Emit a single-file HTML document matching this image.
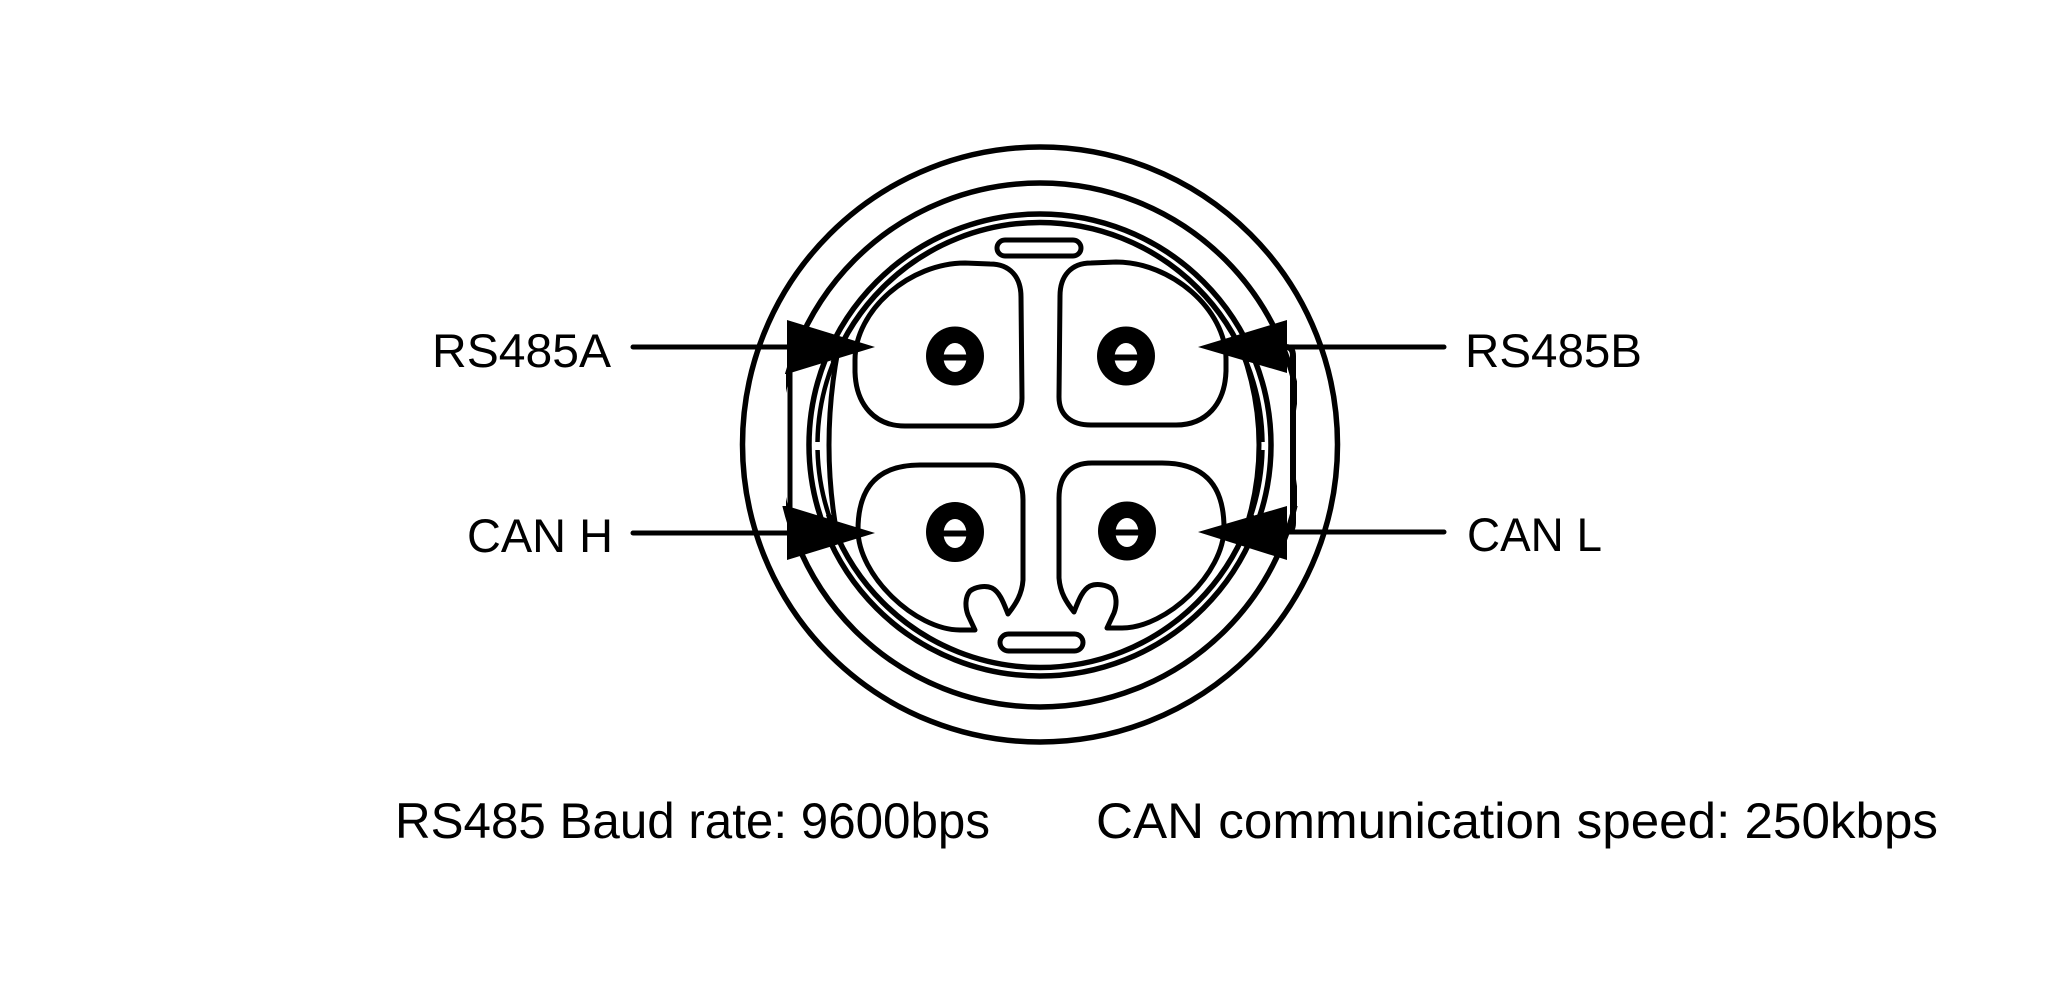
<!DOCTYPE html>
<html>
<head>
<meta charset="utf-8">
<style>
  html,body{margin:0;padding:0;background:#fff;}
  svg{display:block;}
  text{font-family:"Liberation Sans","DejaVu Sans",sans-serif;fill:#000;}
</style>
</head>
<body>
<svg width="2048" height="1000" viewBox="0 0 2048 1000" xmlns="http://www.w3.org/2000/svg">
  <defs>
    <clipPath id="notSides">
      <path clip-rule="evenodd" d="M0 0H2048V1000H0Z M790 362H850V515H790Z M1230 362H1290V515H1230Z"/>
    </clipPath>
    <clipPath id="dashL1"><rect x="790" y="362" width="60" height="80"/></clipPath>
    <clipPath id="dashL2"><rect x="790" y="450" width="60" height="65"/></clipPath>
    <clipPath id="dashR1"><rect x="1230" y="362" width="60" height="80"/></clipPath>
    <clipPath id="dashR2"><rect x="1230" y="450" width="60" height="65"/></clipPath>
  </defs>
  <rect width="2048" height="1000" fill="#fff"/>

  <!-- rings -->
  <g fill="none" stroke="#000" stroke-width="5.5">
    <circle cx="1040" cy="444.5" r="297.5"/>
    <circle cx="1040" cy="445" r="262"/>
    <circle cx="1040" cy="445" r="231"/>
    <circle cx="1040" cy="445" r="222.5" clip-path="url(#notSides)"/>
  </g>
  <!-- dashed segments of inner ring on sides -->
  <g fill="none" stroke="#000" stroke-width="4.5">
    <circle cx="1040" cy="445" r="222.5" clip-path="url(#dashL1)"/>
    <circle cx="1040" cy="445" r="222.5" clip-path="url(#dashL2)"/>
    <circle cx="1040" cy="445" r="222.5" clip-path="url(#dashR1)"/>
    <circle cx="1040" cy="445" r="222.5" clip-path="url(#dashR2)"/>
  </g>
  <!-- inner flattened side arcs -->
  <g fill="none" stroke="#000" stroke-width="5">
    <path d="M 838 350 Q 820 445 838 540"/>
    <path d="M 1242 350 Q 1276 445 1242 540"/>
  </g>

  <!-- hide second ring between arrows -->
  <rect x="766" y="374" width="20" height="132" fill="#fff"/>
  <rect x="1297" y="374" width="20" height="132" fill="#fff"/>

  <!-- slots -->
  <g fill="none" stroke="#000" stroke-width="5">
    <rect x="997" y="240" width="84" height="16" rx="8"/>
    <rect x="1000" y="634" width="83" height="17" rx="8.5"/>
  </g>

  <!-- pin cavities -->
  <g fill="none" stroke="#000" stroke-width="5" stroke-linejoin="round">
    <!-- top-left -->
    <path d="M 855 372 L 855 360 C 855 310 910 263 965 263 L 990 264 C 1010 264 1021 277 1021 297 L 1022 398 C 1022 416 1010 426 990 426 L 905 426 C 875 426 856 405 855 372 Z"/>
    <!-- top-right (mirror) -->
    <path d="M 855 372 L 855 360 C 855 310 910 263 965 263 L 990 264 C 1010 264 1021 277 1021 297 L 1022 398 C 1022 416 1010 426 990 426 L 905 426 C 875 426 856 405 855 372 Z" transform="translate(2081,-1) scale(-1,1)"/>
    <!-- bottom-left -->
    <path d="M 858 530 C 858 485 880 465 920 465 L 990 465 C 1012 465 1023 478 1023 500 L 1023 580 C 1022 595 1015 605 1008 614 C 1004 604 1000 592 992 588 C 985 585 975 587 970 591 C 965 597 965 607 968 615 L 975 630 L 960 630 C 915 630 858 575 858 530 Z"/>
    <!-- bottom-right (mirror) -->
    <path d="M 858 530 C 858 485 880 465 920 465 L 990 465 C 1012 465 1023 478 1023 500 L 1023 580 C 1022 595 1015 605 1008 614 C 1004 604 1000 592 992 588 C 985 585 975 587 970 591 C 965 597 965 607 968 615 L 975 630 L 960 630 C 915 630 858 575 858 530 Z" transform="translate(2082,-2) scale(-1,1)"/>
  </g>

  <!-- pin holes -->
  <g>
    <ellipse cx="955" cy="356" rx="29" ry="29.5" fill="#000"/>
    <ellipse cx="955" cy="357.5" rx="11.5" ry="14.5" fill="#fff"/>
    <rect x="941" y="354.5" width="28" height="6" fill="#000"/>

    <ellipse cx="1126" cy="356" rx="29" ry="29.5" fill="#000"/>
    <ellipse cx="1126" cy="357.5" rx="11.5" ry="14.5" fill="#fff"/>
    <rect x="1112" y="354.5" width="28" height="6" fill="#000"/>

    <ellipse cx="955" cy="532" rx="29" ry="30" fill="#000"/>
    <ellipse cx="955" cy="533.5" rx="11.5" ry="14.5" fill="#fff"/>
    <rect x="941" y="530.5" width="28" height="6" fill="#000"/>

    <ellipse cx="1127" cy="531" rx="29" ry="29.5" fill="#000"/>
    <ellipse cx="1127" cy="532.5" rx="11.5" ry="14.5" fill="#fff"/>
    <rect x="1113" y="529.5" width="28" height="6" fill="#000"/>
  </g>

  <!-- leader lines -->
  <g fill="none" stroke="#000" stroke-width="5" stroke-linecap="round" stroke-linejoin="round">
    <line x1="633" y1="347" x2="792" y2="347"/>
    <line x1="633" y1="533" x2="792" y2="533"/>
    <line x1="790" y1="370" x2="790" y2="510"/>
    <line x1="1282" y1="347" x2="1444" y2="347"/>
    <line x1="1282" y1="532" x2="1444" y2="532"/>
  </g>
  <path d="M 1286 347 Q 1293 347 1293 356 L 1293 523 Q 1293 532 1286 532" fill="none" stroke="#000" stroke-width="6"/>

  <!-- arrowheads -->
  <g fill="#000">
    <polygon points="787,320 875,347 787,374"/>
    <polygon points="787,506 875,533 787,560"/>
    <polygon points="1287,320 1198,347 1287,373"/>
    <polygon points="1287,506 1198,532 1287,560"/>
  </g>

  <!-- labels -->
  <text x="432" y="367" font-size="47" textLength="179" lengthAdjust="spacingAndGlyphs">RS485A</text>
  <text x="467" y="552" font-size="47" textLength="146" lengthAdjust="spacingAndGlyphs">CAN H</text>
  <text x="1465" y="367" font-size="47" textLength="177" lengthAdjust="spacingAndGlyphs">RS485B</text>
  <text x="1467" y="551" font-size="47" textLength="135" lengthAdjust="spacingAndGlyphs">CAN L</text>

  <text x="395" y="838" font-size="50" textLength="595" lengthAdjust="spacingAndGlyphs">RS485 Baud rate: 9600bps</text>
  <text x="1096" y="838" font-size="50" textLength="842" lengthAdjust="spacingAndGlyphs">CAN communication speed: 250kbps</text>
</svg>
</body>
</html>
